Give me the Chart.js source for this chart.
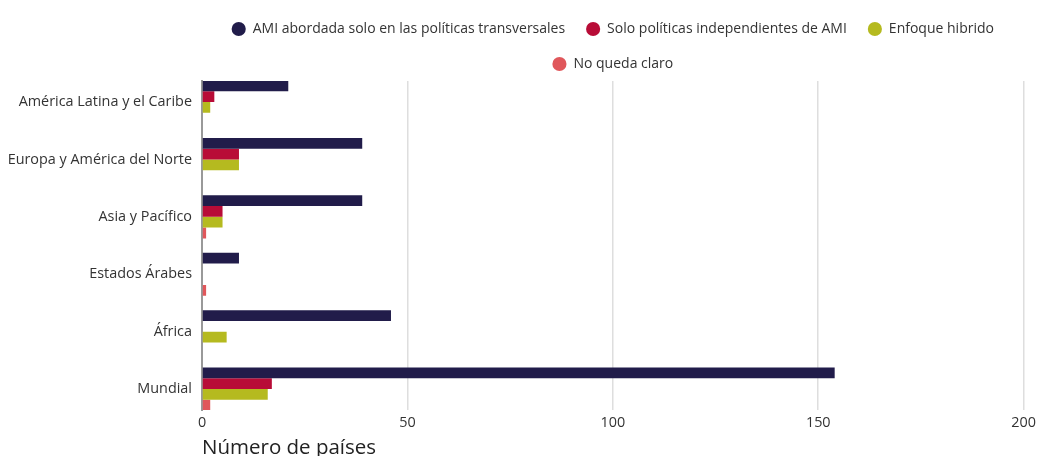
<!DOCTYPE html>
<html lang="es">
<head>
<meta charset="utf-8">
<title>Políticas de AMI por región</title>
<script src="https://cdn.jsdelivr.net/npm/chart.js@4/dist/chart.umd.min.js"></script>
<style>
  html, body { margin: 0; padding: 0; background: #fff; overflow: hidden; }
  #wrap { position: relative; width: 1040px; height: 467px; margin-top: -7px; }
</style>
</head>
<body>
<div id="wrap"><canvas id="amiChart"></canvas></div>
<script>
// regiones (de arriba abajo)
const categories = [
    'América Latina y el Caribe',
    'Europa y América del Norte',
    'Asia y Pacífico',
    'Estados Árabes',
    'África',
    'Mundial'
];

// número de países por enfoque
const transversales = [21, 39, 39, 9, 46, 154];
const independientes = [3, 9, 5, 0, 0, 17];
const hibrido = [2, 9, 5, 0, 6, 16];
const noClaro = [0, 0, 1, 1, 0, 2];

const xTicks = [0, 50, 100, 150, 200];

const FONT = "'Open Sans', sans-serif";
const SIZE = 14.4;

// eje de regiones lineal para poder ajustar el margen arriba y abajo
const toPoints = values => values.map((v, i) => ({ x: v, y: i }));

const ctx = document.getElementById('amiChart').getContext('2d');
new Chart(ctx, {
    type: 'bar',
    data: {
        datasets: [
            { label: 'AMI abordada solo en las políticas transversales', data: toPoints(transversales), backgroundColor: '#211c4a' },
            { label: 'Solo políticas independientes de AMI', data: toPoints(independientes), backgroundColor: '#b80c37' },
            { label: 'Enfoque hibrido', data: toPoints(hibrido), backgroundColor: '#b5ba1f' },
            { label: 'No queda claro', data: toPoints(noClaro), backgroundColor: '#e0575b' }
        ]
    },
    options: {
        indexAxis: 'y',
        responsive: true,
        maintainAspectRatio: false,
        animation: false,
        categoryPercentage: 0.75,
        barPercentage: 1,
        layout: { padding: { top: 8, right: 7, left: 0, bottom: 0 } },
        plugins: {
            tooltip: { enabled: false },
            legend: {
                position: 'top',
                fullSize: false,
                labels: {
                    usePointStyle: true,
                    pointStyle: 'circle',
                    boxHeight: 10,
                    padding: 21,
                    color: '#333',
                    font: { family: FONT, size: 14 }
                }
            }
        },
        scales: {
            x: {
                type: 'linear',
                min: xTicks[0],
                max: xTicks[xTicks.length - 1],
                afterBuildTicks: scale => { scale.ticks = xTicks.map(v => ({ value: v })); },
                grid: { color: '#dedede', lineWidth: 1.5, drawTicks: false },
                border: { display: false },
                ticks: { color: '#333', padding: 4, font: { family: FONT, size: SIZE } },
                title: {
                    display: true,
                    text: 'Número de países',
                    align: 'start',
                    color: '#222',
                    padding: { top: 0, bottom: 0 },
                    font: { family: FONT, size: 20.5 }
                }
            },
            y: {
                type: 'linear',
                reverse: true,
                offset: false,
                min: -0.367,
                max: categories.length - 1 + 0.367,
                afterBuildTicks: scale => { scale.ticks = categories.map((c, i) => ({ value: i })); },
                afterFit: scale => { scale.width = 202; },
                grid: { display: false, drawTicks: false },
                border: { display: true, color: '#999', width: 2 },
                ticks: {
                    color: '#333',
                    padding: 10,
                    font: { family: FONT, size: SIZE },
                    callback: value => categories[value]
                }
            }
        }
    }
});
</script>
</body>
</html>
